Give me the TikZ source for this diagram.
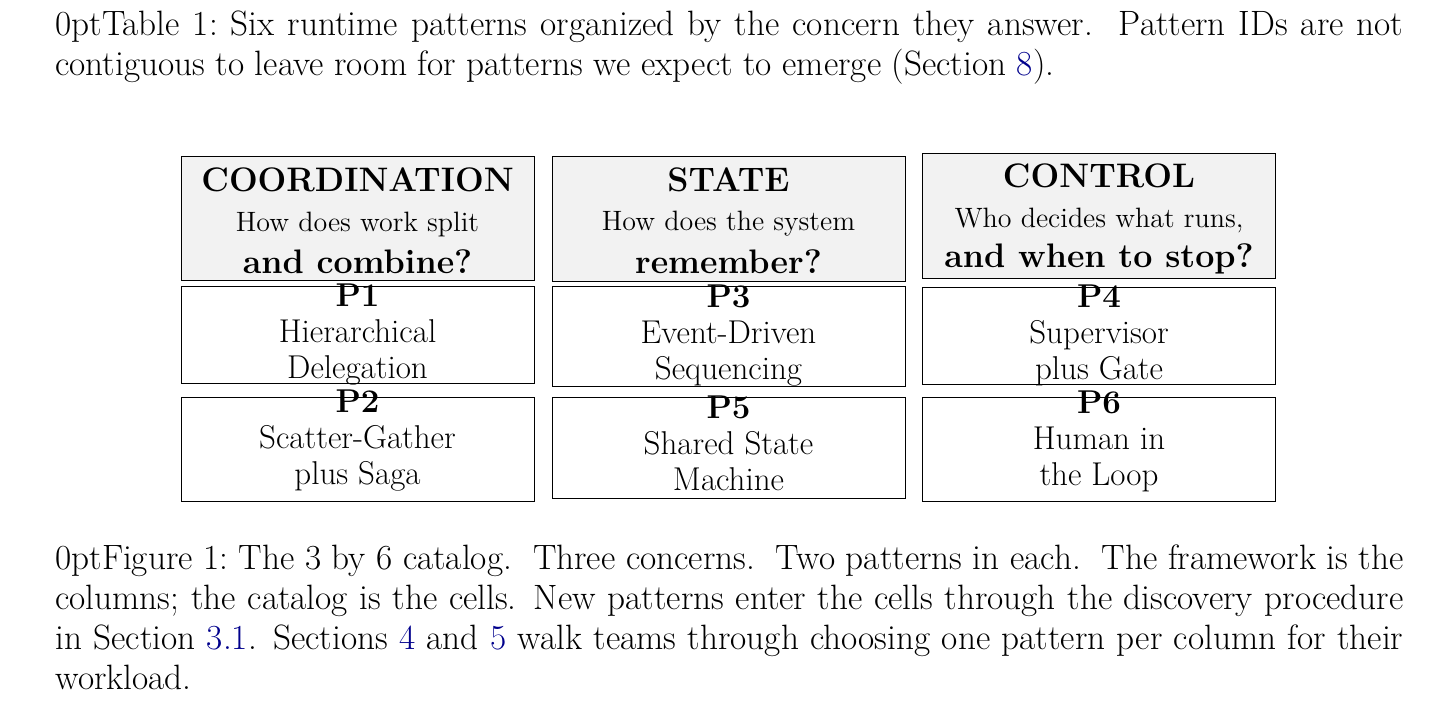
\documentclass[tikz,border=0pt]{standalone}
\usepackage{tikz}
\usetikzlibrary{shapes, arrows}
\definecolor{linkblue}{rgb}{0,0,0.55}

\begin{document}
\begin{tikzpicture}[x=0.5pt, y=-0.5pt]
      \tikzstyle{head} = [
        rectangle,
        draw,
        fill=gray!10,
        minimum width = 176.5pt,
        inner sep = 0pt
      ]

      \tikzstyle{cell} = [
        rectangle,
        draw,
        minimum width = 176.5pt,
        inner sep = 0pt
      ]

      \tikzstyle{title} = [
        font=\fontsize{17}{20}\selectfont\bfseries
      ]

      \tikzstyle{question} = [
        font=\fontsize{14}{16}\selectfont
      ]

      \tikzstyle{pattern} = [
        align=center,
        font=\fontsize{16.5}{18}\selectfont
      ]

      \tikzstyle{caption} = [
        anchor=north west,
        text width = 674pt,
        align=justify,
        inner sep = 0pt,
        font=\fontsize{17.6}{20}\selectfont\hyphenpenalty=10000
      ]

      \useasboundingbox (0,0) rectangle (1456,707);

      \node[caption] (tablecap) at (55,10) {Table 1:\ Six runtime patterns
        organized by the concern they answer.\ \ Pattern IDs are
        not\linebreak contiguous to leave room for patterns we expect to
        emerge (Section \textcolor{linkblue}{8}).};

      % coordination column
      \node[head, minimum height = 62pt] (coordhead) at (357.5,218) {};
      \node[cell, minimum height = 48.5pt] (p1cell) at (357.5,334.5) {};
      \node[cell, minimum height = 52pt] (p2cell) at (357.5,449) {};
      \node[title] (coordtitle) at (357.5,180) {COORDINATION};
      \node[question] (coordq) at (357.5,224) {How does work split};
      \node[title] (coordq2) at (357.5,262) {and combine?};
      \node[pattern] (p1) at (357.5,335) {\textbf{P1}\\Hierarchical\\Delegation};
      \node[pattern] (p2) at (357.5,441) {\textbf{P2}\\Scatter-Gather\\plus Saga};

      % state column
      \node[head, minimum height = 62.5pt] (statehead) at (728.5,218.5) {};
      \node[cell, minimum height = 50pt] (p3cell) at (728.5,336) {};
      \node[cell, minimum height = 50.5pt] (p5cell) at (728.5,447.5) {};
      \node[title] (statetitle) at (728.5,180) {STATE};
      \node[question] (stateq) at (728.5,224) {How does the system};
      \node[title] (stateq2) at (728.5,262) {remember?};
      \node[pattern] (p3) at (728.5,336) {\textbf{P3}\\Event-Driven\\Sequencing};
      \node[pattern] (p5) at (728.5,443) {\textbf{P5}\\Shared State\\Machine};

      % control column
      \node[head, minimum height = 62.5pt] (controlhead) at (1099,215.5) {};
      \node[cell, minimum height = 48.5pt] (p4cell) at (1099,335.5) {};
      \node[cell, minimum height = 52pt] (p6cell) at (1099,449) {};
      \node[title] (controltitle) at (1099,176) {CONTROL};
      \node[question] (controlq) at (1099,220) {Who decides what runs,};
      \node[title] (controlq2) at (1099,259) {and when to stop?};
      \node[pattern] (p4) at (1099,335) {\textbf{P4}\\Supervisor\\plus Gate};
      \node[pattern] (p6) at (1099,441) {\textbf{P6}\\Human in\\the Loop};

      \node[caption] (figurecap) at (55,544) {Figure 1:\ The 3 by 6 catalog.\ \
        Three concerns.\ \ Two patterns in each.\ \ The framework is the
        columns; the catalog is the cells. New patterns enter the cells
        through the discovery procedure in Section \textcolor{linkblue}{3.1}.
        Sections \textcolor{linkblue}{4} and \textcolor{linkblue}{5} walk
        teams through choosing one pattern per column for their workload.};
    \end{tikzpicture}
\end{document}
